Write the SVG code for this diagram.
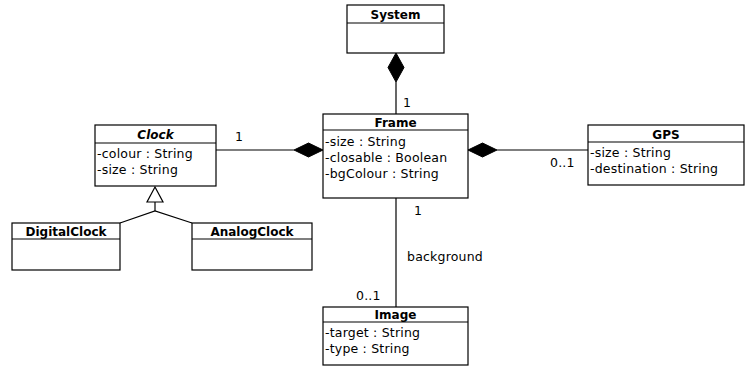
<svg xmlns="http://www.w3.org/2000/svg" width="747" height="367" viewBox="0 0 747 367">
  <style>
    .box { fill: #fff; stroke: #000; stroke-width: 1.2; }
    .div { stroke: #000; stroke-width: 1.2; }
    .edge { stroke: #000; stroke-width: 1.2; fill: none; }
    .dia { fill: #000; stroke: #000; stroke-width: 1; }
    text { font-family: "DejaVu Sans", "Liberation Sans", sans-serif; font-size: 12.5px; letter-spacing: 0.2px; fill: #000; }
    .title { font-size: 12px; letter-spacing: 0; font-weight: bold; text-anchor: middle; }
    .abstract { font-style: italic; }
  </style>
  <rect width="747" height="367" fill="#fff"/>

  <!-- associations -->
  <g id="connectors">
    <!-- System <>- Frame -->
    <line class="edge" x1="396" y1="82" x2="396" y2="114"/>
    <polygon class="dia" points="396,53 404,67.5 396,82 388,67.5"/>
    <text x="403" y="107">1</text>
    <!-- Frame <>- Clock -->
    <line class="edge" x1="216" y1="150" x2="294" y2="150"/>
    <polygon class="dia" points="323,150 308.5,157 294,150 308.5,143"/>
    <text x="235" y="141">1</text>
    <!-- Frame <>- GPS -->
    <line class="edge" x1="497" y1="150" x2="588" y2="150"/>
    <polygon class="dia" points="468,150 482.5,143 497,150 482.5,157"/>
    <text x="550" y="167">0..1</text>
    <!-- Frame - Image -->
    <line class="edge" x1="396" y1="198" x2="396" y2="307"/>
    <text x="414" y="215">1</text>
    <text x="407" y="261">background</text>
    <text x="356" y="300">0..1</text>
    <!-- generalization to Clock -->
    <polygon class="box" points="155,187 163,202 147,202"/>
    <polyline class="edge" points="155,202 155,211"/>
    <polyline class="edge" points="120,223 155,211 192,223"/>
  </g>

  <g id="System">
    <rect class="box" x="347" y="5" width="97" height="48"/>
    <line class="div" x1="347" y1="23" x2="444" y2="23"/>
    <text class="title" x="395.5" y="18.5">System</text>
  </g>

  <g id="Frame">
    <rect class="box" x="323" y="114" width="145" height="84"/>
    <line class="div" x1="323" y1="130" x2="468" y2="130"/>
    <text class="title" x="395.5" y="127">Frame</text>
    <text x="325" y="146">-size : String</text>
    <text x="325" y="162">-closable : Boolean</text>
    <text x="325" y="178">-bgColour : String</text>
  </g>

  <g id="Clock">
    <rect class="box" x="95" y="125" width="121" height="61"/>
    <line class="div" x1="95" y1="143" x2="216" y2="143"/>
    <text class="title abstract" x="155.5" y="138.5">Clock</text>
    <text x="97" y="158">-colour : String</text>
    <text x="97" y="174">-size : String</text>
  </g>

  <g id="GPS">
    <rect class="box" x="588" y="125" width="156" height="60"/>
    <line class="div" x1="588" y1="142" x2="744" y2="142"/>
    <text class="title" x="666" y="138.5">GPS</text>
    <text x="590" y="157">-size : String</text>
    <text x="590" y="173">-destination : String</text>
  </g>

  <g id="DigitalClock">
    <rect class="box" x="12" y="223" width="108" height="47"/>
    <line class="div" x1="12" y1="239" x2="120" y2="239"/>
    <text class="title" x="66" y="235.5">DigitalClock</text>
  </g>

  <g id="AnalogClock">
    <rect class="box" x="192" y="223" width="120" height="47"/>
    <line class="div" x1="192" y1="239" x2="312" y2="239"/>
    <text class="title" x="252" y="235.5">AnalogClock</text>
  </g>

  <g id="Image">
    <rect class="box" x="323" y="307" width="145" height="58"/>
    <line class="div" x1="323" y1="322" x2="468" y2="322"/>
    <text class="title" x="395.5" y="319">Image</text>
    <text x="325" y="337">-target : String</text>
    <text x="325" y="353">-type : String</text>
  </g>
</svg>
